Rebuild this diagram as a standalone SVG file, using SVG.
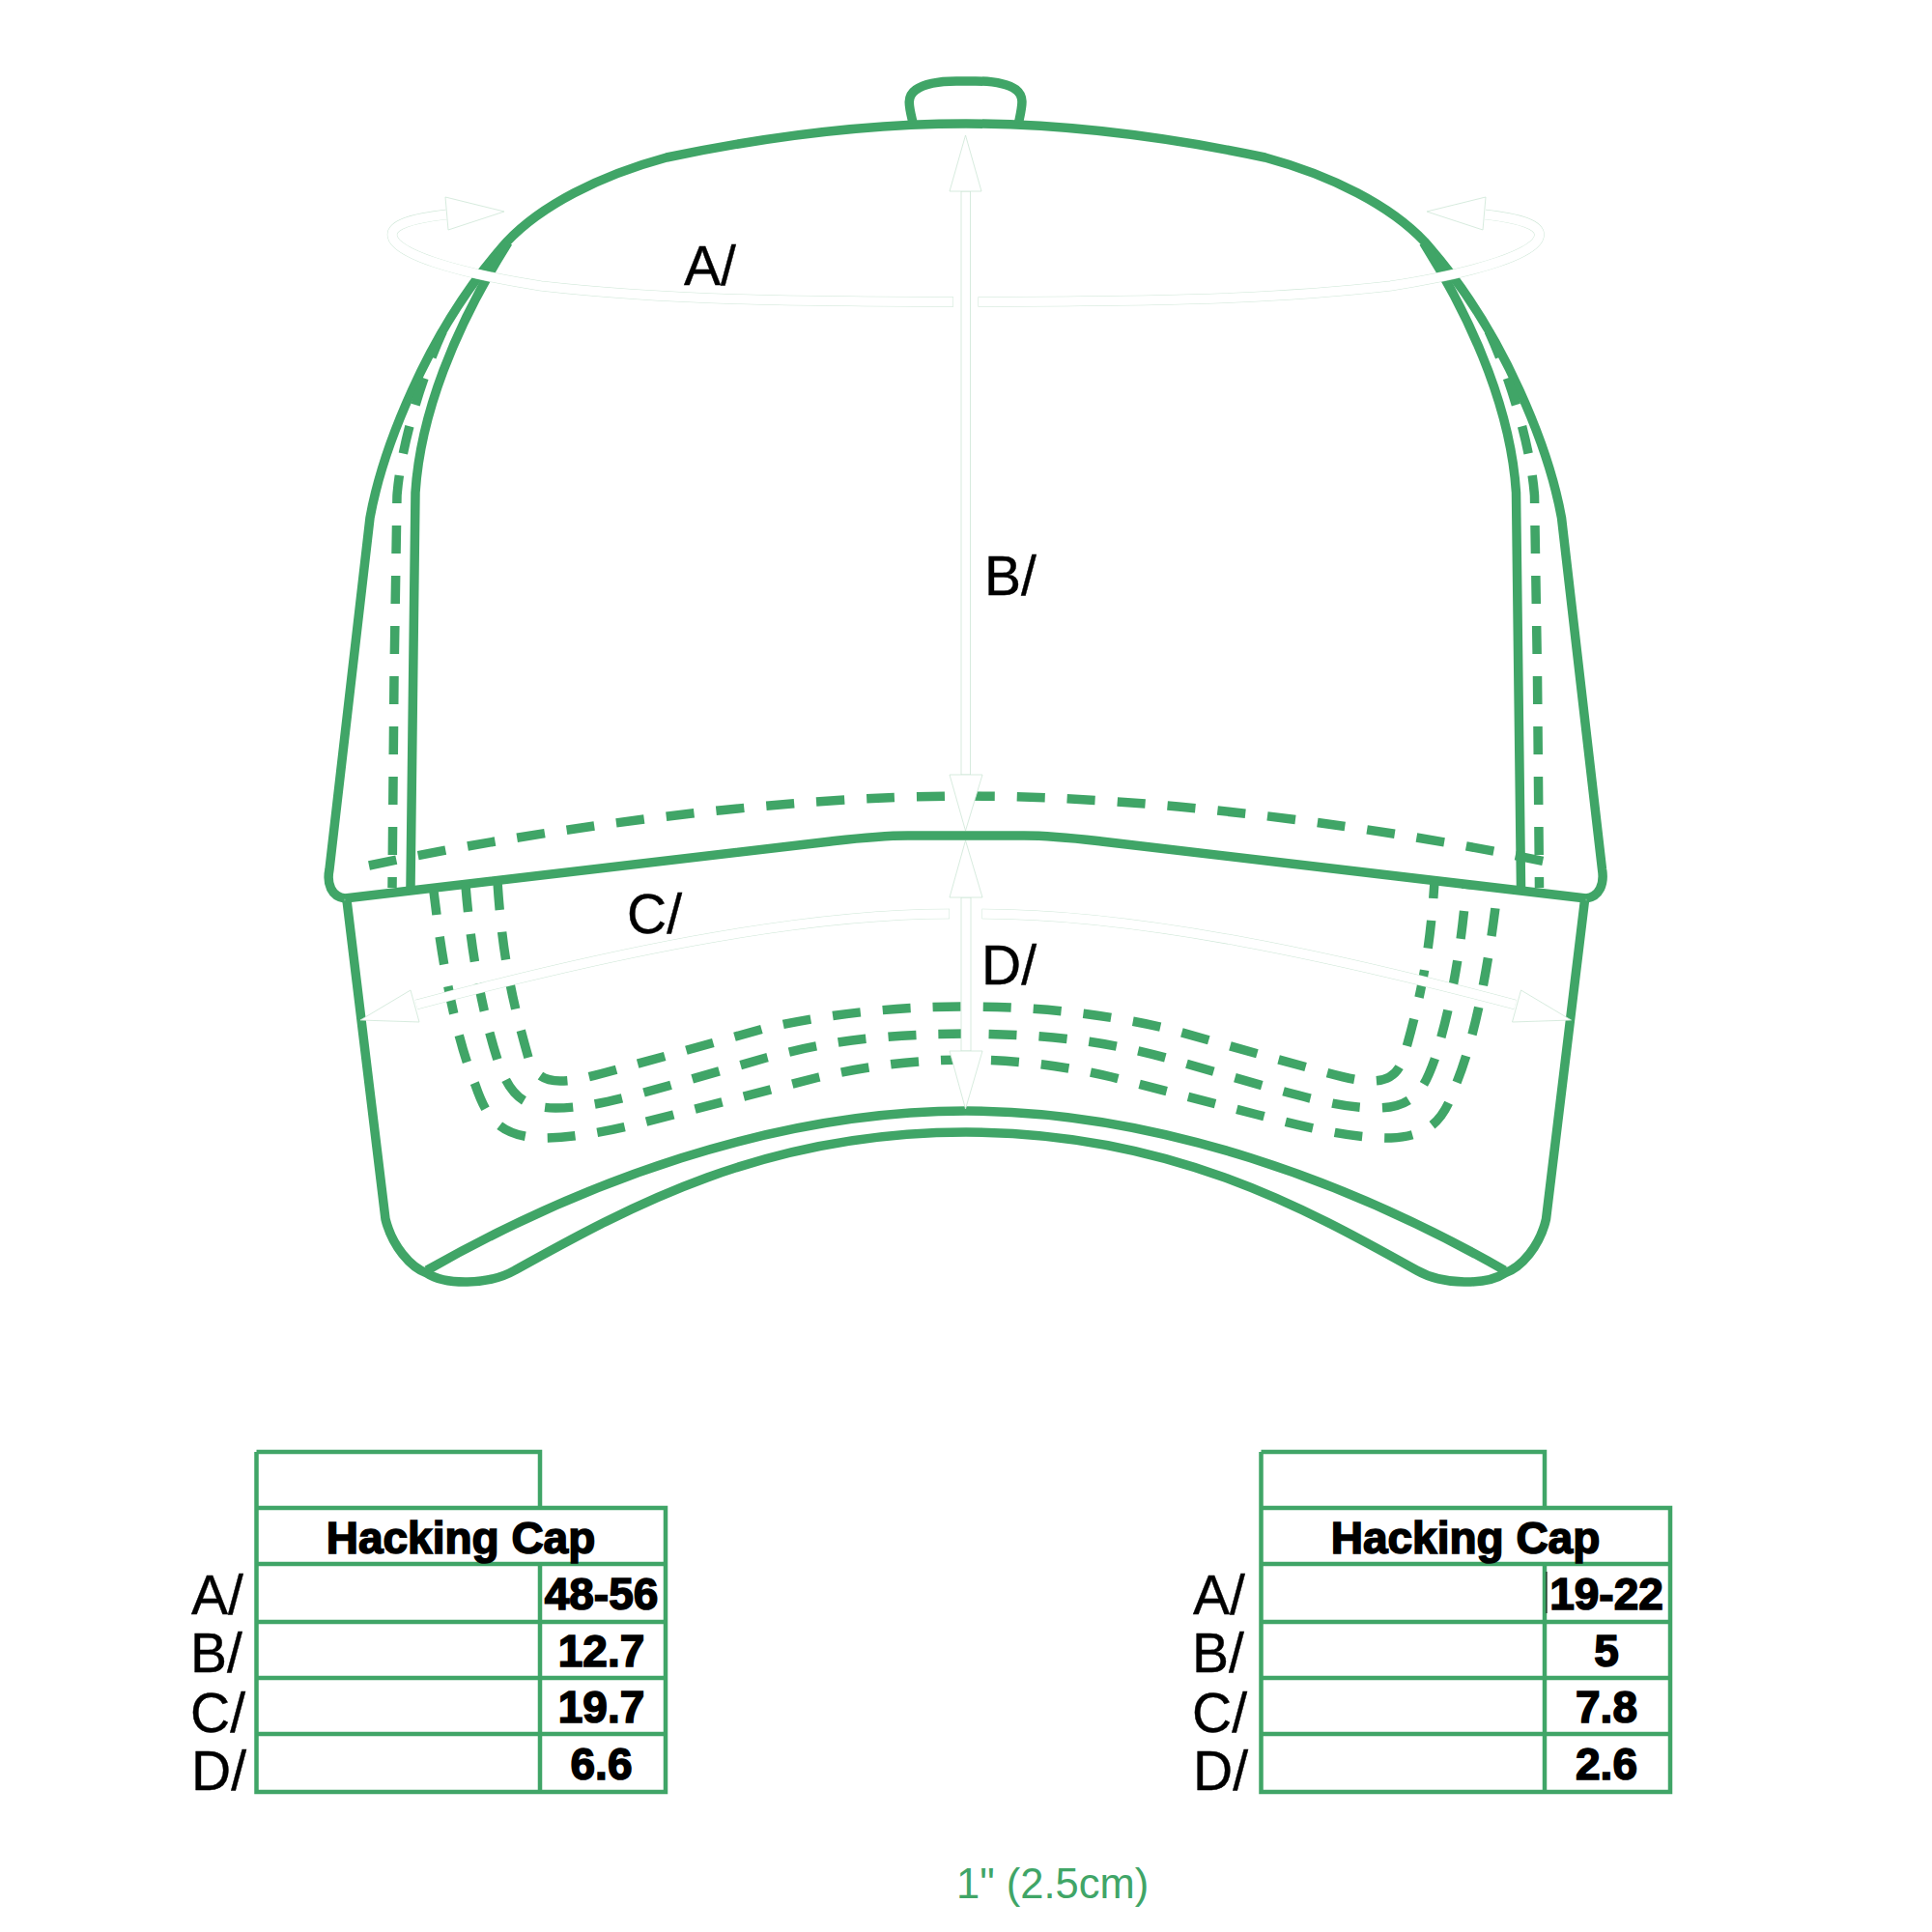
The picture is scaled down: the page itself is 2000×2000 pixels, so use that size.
<svg xmlns="http://www.w3.org/2000/svg" width="2000" height="2000" viewBox="0 0 2000 2000">
<style>
.o{fill:none;stroke:#40a567;stroke-width:9.500;stroke-linejoin:round}
.d{fill:none;stroke:#40a567;stroke-width:9.500;stroke-dasharray:29 23}
.g{fill:none;stroke:#40a567;stroke-width:4.500}
.rp{fill:none;stroke:#cde6d6;stroke-width:10.500}
.rw{fill:none;stroke:#fff;stroke-width:9.500}
.h{fill:#fff;stroke:#cde6d6;stroke-width:.8;stroke-linejoin:round}
.l{font-family:"Liberation Sans",Arial,sans-serif;font-size:57px;fill:#000;stroke:#000;stroke-width:.4}
.t{font-family:"Liberation Sans",Arial,sans-serif;font-weight:700;font-size:46px;fill:#000;stroke:#000;stroke-width:1.600;text-anchor:middle}
</style>
<g id="cap">
<path class="o" d="M357,930 C343,928 338,915 341,900 L383,536 C395,470 440,345 525,250 C560,213 620,182 690,163 C800,140 900,128 1000,128 C1100,128 1200,140 1309.500,163 C1379.500,182 1439.500,213 1474.500,250 C1559.500,345 1604.500,470 1616.500,536 L1658.500,900 C1661,915 1656,928 1642,930"/>
<path class="o" d="M945,127 C941,110 938,100 948,93 C958,86 975,84 990,84 L1010,84 C1025,84 1042,86 1052,93 C1061,100 1058,110 1054.500,127"/>
<path class="o" d="M425,918 L430,510 C435,430 470,340 526,251"/>
<path class="o" d="M1574.500,918 L1569.500,510 C1564.500,430 1529.500,340 1473.500,251"/>
<path class="o" d="M357,930 L860,871 C890,867.500 910,865 940,865 L1060,865 C1090,865 1110,867.500 1140,871 L1642,930"/>
<path class="o" d="M359,932 L399,1262 C406,1290 425,1312 442,1318 C460,1330 505,1331 533,1315 C650,1250 790,1172 1000,1172 C1210,1172 1350,1250 1466.500,1315 C1494.500,1331 1540,1330 1557.500,1318 C1575,1312 1594,1290 1600.500,1262 L1640.500,932"/>
<path class="o" d="M442,1315 C600,1225 800,1150 1000,1150 C1200,1150 1400,1225 1557.500,1315"/>
</g>
<g id="stitching">
<path class="d" d="M382,896 C550,860 800,824 1000,824 C1200,824 1440,858 1600,892"/>
<path class="d" stroke-dashoffset="18" d="M406,919 L408,700 L411,513 C415,460 438,385 462,335"/>
<path class="d" stroke-dashoffset="18" d="M1593.500,919 L1591.500,700 L1588.500,513 C1584.500,460 1561.500,385 1537.500,335"/>
<path class="d" stroke-dashoffset="5" d="M449,923 C458,1000 472,1075 492,1123 C503,1155 515,1176 560,1178 C600,1178 640,1169 697,1154 L848,1115 C900,1103 950,1097 1000,1097 C1050,1097 1100,1103 1151,1115 L1302,1154 C1360,1169 1400,1178 1440,1178 C1484,1176 1496,1155 1507,1123 C1527,1075 1541,1000 1550,923"/>
<path class="d" stroke-dashoffset="2" d="M482,917 C488,990 500,1050 515,1097 C525,1125 535,1147 575,1147 C610,1147 645,1137 692,1124 L793,1095 C850,1080 900,1071 1000,1070 C1100,1071 1150,1080 1206.500,1095 L1307.500,1124 C1355,1137 1390,1147 1425,1147 C1465,1147 1475,1125 1485,1097 C1500,1050 1512,990 1518,917"/>
<path class="d" d="M515,913 C520,990 530,1035 547,1095 C553,1112 562,1119 580,1119 C600,1119 620,1112 690,1093 L790,1065 C850,1051 920,1042 1000,1042 C1080,1042 1150,1051 1209.500,1065 L1309.500,1093 C1380,1112 1400,1119 1420,1119 C1438,1119 1447,1112 1453,1095 C1470,1035 1480,990 1485,913"/>
</g>
<g id="connectors">
<g id="arrow-a">
<path class="rp" d="M462,222 C425,226 406,233 406,243 C406,262 470,282 560,296 C700,312 850,312 987,312.500"/>
<path class="rw" d="M464,222 C425,226 406,233 406,243 C406,262 470,282 560,296 C700,312 850,312 986.500,312.500"/>
<polygon class="h" points="461,204 522,219 464,238"/>
<path class="rp" d="M1537.500,222 C1574.500,226 1593.500,233 1593.500,243 C1593.500,262 1529.500,282 1439.500,296 C1299.500,312 1149.500,312 1012.500,312.500"/>
<path class="rw" d="M1535.500,222 C1574.500,226 1593.500,233 1593.500,243 C1593.500,262 1529.500,282 1439.500,296 C1299.500,312 1149.500,312 1013,312.500"/>
<polygon class="h" points="1538,204 1477,219 1535,238"/>
</g>
<g id="arrow-c">
<path class="rp" d="M983,946 C820,946 620,990 431,1040"/>
<path class="rw" d="M982.500,946 C820,946 620,990 431,1040"/>
<polygon class="h" points="425,1025 373,1056 434,1058"/>
<path class="rp" d="M1016.500,946 C1179.500,946 1379.500,990 1568.500,1040"/>
<path class="rw" d="M1017,946 C1179.500,946 1379.500,990 1568.500,1040"/>
<polygon class="h" points="1574.500,1025 1626.500,1056 1565.500,1058"/>
</g>
<g id="arrow-b">
<rect class="h" x="995" y="198" width="9.500" height="604"/>
<polygon class="h" points="999.500,140 983,198 1016,198"/>
<polygon class="h" points="983,802 1017,802 999.500,860"/>
</g>
<g id="arrow-d">
<rect class="h" x="995" y="929" width="10" height="159"/>
<polygon class="h" points="999.500,870 983,929 1017,929"/>
<polygon class="h" points="983,1088 1017,1088 999.500,1148"/>
</g>
</g>
<g id="labels">
<text class="l" x="708" y="295">A/</text>
<text class="l" x="1019" y="616">B/</text>
<text class="l" x="649" y="966">C/</text>
<text class="l" x="1016" y="1019">D/</text>
</g>
<g id="table-cm">
<path class="g" d="M265.500,1503 H559 V1561 M265.500,1503 V1855 H689 V1561 H265.500 M265.500,1619 H689 M265.500,1679 H689 M265.500,1737 H689 M265.500,1795 H689 M559,1619 V1855"/>
<text class="t" x="477" y="1608">Hacking Cap</text>
<text class="t" x="622.500" y="1666">48-56</text>
<text class="t" x="622.500" y="1725">12.7</text>
<text class="t" x="622.500" y="1783">19.7</text>
<text class="t" x="622.500" y="1842">6.6</text>
<text class="l" x="198" y="1671">A/</text>
<text class="l" x="197" y="1731">B/</text>
<text class="l" x="197" y="1793">C/</text>
<text class="l" x="198" y="1853">D/</text>
</g>
<g id="table-in">
<path class="g" d="M1305.500,1503 H1599 V1561 M1305.500,1503 V1855 H1729 V1561 H1305.500 M1305.500,1619 H1729 M1305.500,1679 H1729 M1305.500,1737 H1729 M1305.500,1795 H1729 M1599,1619 V1855"/>
<path d="M1601,1627 V1670" stroke="#000" stroke-width="1" fill="none"/>
<text class="t" x="1517" y="1608">Hacking Cap</text>
<text class="t" x="1663" y="1666">19-22</text>
<text class="t" x="1663" y="1725">5</text>
<text class="t" x="1663" y="1783">7.8</text>
<text class="t" x="1663" y="1842">2.6</text>
<text class="l" x="1235" y="1671">A/</text>
<text class="l" x="1234" y="1731">B/</text>
<text class="l" x="1234" y="1793">C/</text>
<text class="l" x="1235" y="1853">D/</text>
</g>
<g id="scale">
<text x="990" y="1965" font-family="Liberation Sans, Arial, sans-serif" font-size="43.500" fill="#40a567">1" (2.5cm)</text>
</g>
</svg>
